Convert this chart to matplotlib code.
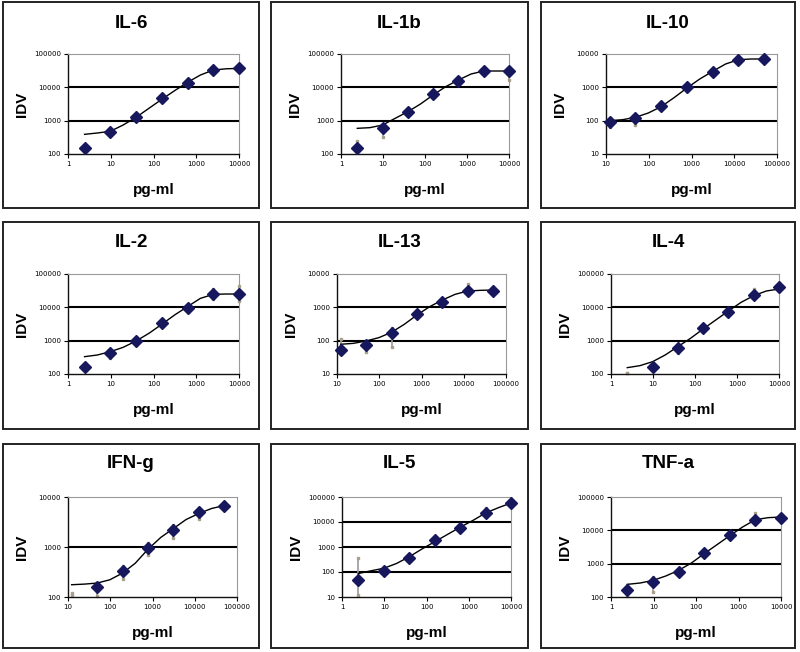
import matplotlib.pyplot as plt
from matplotlib.patches import Rectangle
from matplotlib.ticker import FixedLocator, NullLocator

# concentrations (4-fold dilutions)
conc_a = [2.44, 9.77, 39.1, 156, 625, 2500, 10000]
conc_b = [12.2, 48.8, 195, 781, 3125, 12500, 50000]
fit_x_a = [2.44, 4.88, 9.77, 19.5, 39.1, 78.1, 156, 312, 625, 1250, 2500, 5000, 10000]
fit_x_b = [12.2, 24.4, 48.8, 97.7, 195, 391, 781, 1563, 3125, 6250, 12500, 25000, 50000]

names = ["IL-6", "IL-1b", "IL-10", "IL-2", "IL-13", "IL-4", "IFN-g", "IL-5", "TNF-a"]

il6_y = [148, 447, 1318, 4677, 13200, 33100, 37200]
il6_lo = [125, 390, 1150, 4200, 12000, 29000, 32000]
il6_hi = [170, 500, 1500, 5200, 15000, 38000, 42000]
il6_fit = [389, 427, 480, 741, 1259, 2344, 4365, 7943, 14125, 23400, 33000, 36000, 37000]

il1b_y = [148, 617, 1778, 6310, 15500, 31600, 30200]
il1b_lo = [120, 330, 1500, 5600, 14000, 27000, 16600]
il1b_hi = [240, 700, 2000, 7000, 17500, 36000, 38000]
il1b_fit = [589, 617, 741, 1175, 1862, 3162, 5900, 10500, 16600, 25100, 30900, 30900, 30900]

il10_y = [89, 120, 275, 1000, 2950, 6600, 6900]
il10_lo = [65, 75, 240, 900, 2600, 5200, 5800]
il10_hi = [105, 135, 310, 1100, 3300, 7400, 7800]
il10_fit = [100, 107, 126, 170, 263, 490, 955, 1780, 3020, 5000, 6760, 7080, 7080]

il2_y = [166, 417, 977, 3470, 9770, 24500, 25700]
il2_lo = [140, 300, 880, 3000, 8500, 18000, 15000]
il2_hi = [190, 500, 1100, 3900, 11000, 35000, 45000]
il2_fit = [331, 372, 468, 631, 977, 1660, 3090, 5900, 10500, 18600, 24500, 25100, 25100]

il13_y = [52, 74, 166, 617, 1480, 3090, 3090]
il13_lo = [45, 45, 65, 550, 1300, 2300, 2500]
il13_hi = [110, 100, 240, 700, 1700, 5000, 4000]
il13_fit = [78, 83, 98, 123, 178, 309, 589, 1047, 1660, 2455, 3090, 3236, 3311]

il4_y = [float("nan"), 166, 589, 2344, 7410, 23400, 39800]
il4_lo = [105, 140, 420, 2100, 6600, 20000, 30000]
il4_hi = [105, 190, 800, 2600, 8300, 35000, 55000]
il4_fit = [155, 178, 234, 372, 661, 1175, 2239, 4169, 7760, 14100, 22400, 30900, 35500]

ifng_y = [float("nan"), 158, 324, 977, 2190, 5030, 6700]
ifng_lo = [110, 105, 230, 700, 1500, 3700, 5900]
ifng_hi = [120, 190, 420, 1200, 2700, 6100, 8000]
ifng_fit = [176, 181, 190, 221, 300, 474, 900, 1550, 2340, 3550, 4680, 5890, 6760]

il5_y = [47, 112, 363, 1820, 5890, 23400, 57500]
il5_lo = [12, 85, 290, 1600, 5200, 18000, 50000]
il5_hi = [350, 150, 420, 2100, 6600, 35000, 65000]
il5_fit = [87, 112, 141, 219, 407, 832, 1620, 3162, 6170, 11500, 22900, 37200, 57500]

tnfa_y = [166, 282, 562, 2090, 7080, 20000, 24000]
tnfa_lo = [110, 140, 480, 1900, 5500, 17000, 21000]
tnfa_hi = [230, 400, 650, 2300, 7800, 32000, 28000]
tnfa_fit = [240, 263, 316, 427, 631, 1047, 2000, 3715, 6920, 12600, 20900, 24000, 25100]

xlims = [(1, 1e4), (1, 1e4), (10, 1e5), (1, 1e4), (10, 1e5), (1, 1e4), (10, 1e5), (1, 1e4), (1, 1e4)]
ylims = [(100, 1e5), (100, 1e5), (10, 1e4), (100, 1e5), (10, 1e4), (100, 1e5), (100, 1e4), (10, 1e5), (100, 1e5)]

panels = [
    (il6_y, il6_lo, il6_hi, il6_fit),
    (il1b_y, il1b_lo, il1b_hi, il1b_fit),
    (il10_y, il10_lo, il10_hi, il10_fit),
    (il2_y, il2_lo, il2_hi, il2_fit),
    (il13_y, il13_lo, il13_hi, il13_fit),
    (il4_y, il4_lo, il4_hi, il4_fit),
    (ifng_y, ifng_lo, ifng_hi, ifng_fit),
    (il5_y, il5_lo, il5_hi, il5_fit),
    (tnfa_y, tnfa_lo, tnfa_hi, tnfa_fit),
]

W, H = 800, 652
box_cols = [(3, 259), (271, 528), (541, 795)]
box_rows = [(2, 208), (222, 429), (444, 648)]
plot_x = [[(68, 239), (341, 509), (606, 777)],
          [(68, 239), (337, 506), (611, 779)],
          [(68, 237), (342, 511), (611, 781)]]
plot_y = [(54, 154), (274, 374), (497, 597)]

fig = plt.figure(figsize=(W / 100, H / 100), dpi=100)
fig.patch.set_facecolor("white")

navy = "#17175e"

for i, name in enumerate(names):
    r, c = divmod(i, 3)
    bx0, bx1 = box_cols[c]
    by0, by1 = box_rows[r]
    fig.patches.append(Rectangle((bx0 / W, 1 - by1 / H), (bx1 - bx0) / W, (by1 - by0) / H,
                                 transform=fig.transFigure, fill=False, ec="#222222", lw=1.4))
    px0, px1 = plot_x[r][c]
    py0, py1 = plot_y[r]
    ax = fig.add_axes([px0 / W, 1 - py1 / H, (px1 - px0) / W, (py1 - py0) / H])

    y, lo, hi, fit = panels[i]
    if xlims[i][0] == 1:
        xs, fx = conc_a, fit_x_a
    else:
        xs, fx = conc_b, fit_x_b

    ax.set_xscale("log")
    ax.set_yscale("log")
    ax.set_xlim(*xlims[i])
    ax.set_ylim(*ylims[i])

    yt = [10 ** k for k in range(0, 7) if ylims[i][0] <= 10 ** k <= ylims[i][1]]
    xt = [10 ** k for k in range(0, 7) if xlims[i][0] <= 10 ** k <= xlims[i][1]]
    for v in yt[1:-1]:
        ax.axhline(v, color="black", lw=1.5, zorder=1)

    ax.vlines(xs, lo, hi, color="#9a9a9a", lw=1.2, zorder=2, clip_on=False)
    ax.plot(xs, lo, ls="none", marker="s", ms=1.8, color="#a8a08a", zorder=2, clip_on=False)
    ax.plot(xs, hi, ls="none", marker="s", ms=1.8, color="#a8a08a", zorder=2, clip_on=False)
    ax.plot(fx, fit, color="black", lw=1.0, zorder=3)
    ax.plot(xs, y, ls="none", marker="D", ms=6, color=navy, zorder=4, clip_on=False)

    ax.xaxis.set_major_locator(FixedLocator(xt))
    ax.yaxis.set_major_locator(FixedLocator(yt))
    ax.xaxis.set_minor_locator(NullLocator())
    ax.yaxis.set_minor_locator(NullLocator())
    ax.set_xticklabels([str(int(v)) for v in xt])
    ax.set_yticklabels([str(int(v)) for v in yt])
    ax.tick_params(labelsize=5, length=3, width=0.8, pad=2, direction="out")

    for s in ["top", "right"]:
        ax.spines[s].set_color("#9a9a9a")
        ax.spines[s].set_linewidth(0.8)
    for s in ["left", "bottom"]:
        ax.spines[s].set_color("#111111")
        ax.spines[s].set_linewidth(1.0)

    cx = (bx0 + bx1) / 2
    ty = by0 + (21 if r == 0 else 20)
    fig.text(cx / W, 1 - ty / H, name, ha="center", va="center",
             fontsize=13.5, fontweight="bold", family="Liberation Sans")
    fig.text((px0 - 46) / W, 1 - ((py0 + py1) / 2) / H, "IDV", rotation=90,
             ha="center", va="center", fontsize=11, fontweight="bold", family="Liberation Sans")
    fig.text(((px0 + px1) / 2) / W, 1 - (py1 + 36) / H, "pg-ml", ha="center", va="center",
             fontsize=11, fontweight="bold", family="Liberation Sans")

plt.savefig("out.png", dpi=100, facecolor="white")
